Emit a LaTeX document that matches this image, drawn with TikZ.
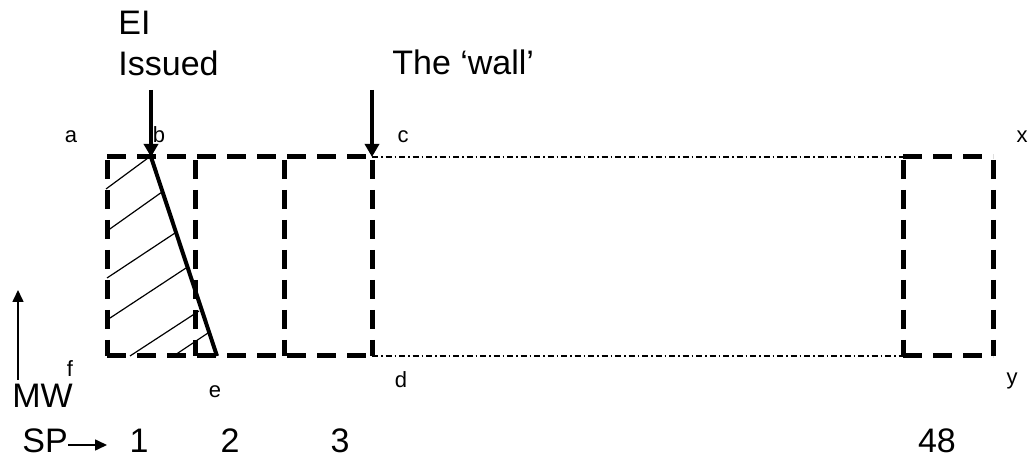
\documentclass[tikz,border=0pt]{standalone}
\usepackage{fontspec}
\setmainfont{Liberation Sans}
\usetikzlibrary{arrows.meta}

\begin{document}
\begin{tikzpicture}[
    x=0.5pt, y=-0.5pt,
    cell/.style={line width=2.5pt, dash pattern=on 9.5pt off 5.5pt},
    gap/.style={line width=0.75pt, dash pattern=on 3pt off 1.5pt on 0.75pt off 1.5pt},
    marker/.style={-{Triangle[width=7pt, length=6.5pt]}, line width=2pt},
    axis/.style={-{Triangle[width=5.5pt, length=6pt]}, line width=0.8pt},
    hatch/.style={line width=0.6pt},
    big/.style={inner sep=0pt, font=\fontsize{17}{20}\selectfont},
    lbl/.style={inner sep=0pt, anchor=base, font=\fontsize{11}{13}\selectfont}
]
\useasboundingbox (0,0) rectangle (1030,460);

% Corners of the strip
\coordinate (tl) at (107,157);
\coordinate (bl) at (107,356);
\coordinate (tw) at (372,157);
\coordinate (bw) at (372,356);
\coordinate (tr) at (903,157);
\coordinate (br) at (903,356);
\coordinate (tx) at (993,157);
\coordinate (bx) at (993,356);
\coordinate (ptb) at (151,157);
\coordinate (pte) at (217,356);

% Dashed cells
\draw[cell] (tl) -- (tw);
\draw[cell] (bl) -- (bw);
\draw[cell] (tr) -- (tx);
\draw[cell] (br) -- (bx);
\foreach \xx in {107,195,284,372,903,993}
    \draw[cell] (\xx,160) -- (\xx,356);

% Gap between cell 3 and cell 48
\draw[gap] (tw) -- (tr);
\draw[gap] (bw) -- (br);

% Hatched area and slanted edge
\draw[hatch] (106,189) -- (148,158);
\draw[hatch] (107,231) -- (162,192);
\draw[hatch] (107,278) -- (175,233);
\draw[hatch] (107,320) -- (186,268);
\draw[hatch] (130,356) -- (199,311);
\draw[hatch] (175,355) -- (208,333);
\draw[line width=2pt] (ptb) -- (pte);

% Markers
\node[big, anchor=base west] (ei) at (118,35) {EI};
\node[big, anchor=base west] (issued) at (118,76) {Issued};
\node[big, anchor=base west] (wall) at (392,75) {The ‘wall’};
\coordinate (eitop) at (151,90);
\coordinate (walltop) at (372,90);
\draw[marker] (eitop) -- (ptb);
\draw[marker] (walltop) -- (tw);

% Corner letters
\node[lbl] (la) at (71,143) {a};
\node[lbl] (lb) at (159,143) {b};
\node[lbl] (lc) at (403,143) {c};
\node[lbl] (lx) at (1022,143) {x};
\node[lbl] (lf) at (70,377) {f};
\node[lbl] (le) at (215,397) {e};
\node[lbl] (ld) at (401,387) {d};
\node[lbl] (ly) at (1012,385) {y};

% Axes
\node[big, anchor=base west] (mw) at (12,408) {MW};
\node[big, anchor=base west] (sp) at (22,452) {SP};
\coordinate (mwtop) at (18,290);
\coordinate (spend) at (107,445);
\draw[axis] (18,380) -- (mwtop);
\draw[axis] (sp.east |- spend) -- (spend);

% Cell numbers
\node[big, anchor=base] (n1) at (139,452) {1};
\node[big, anchor=base] (n2) at (230,452) {2};
\node[big, anchor=base] (n3) at (340,452) {3};
\node[big, anchor=base] (n48) at (937,452) {48};
\end{tikzpicture}
\end{document}
